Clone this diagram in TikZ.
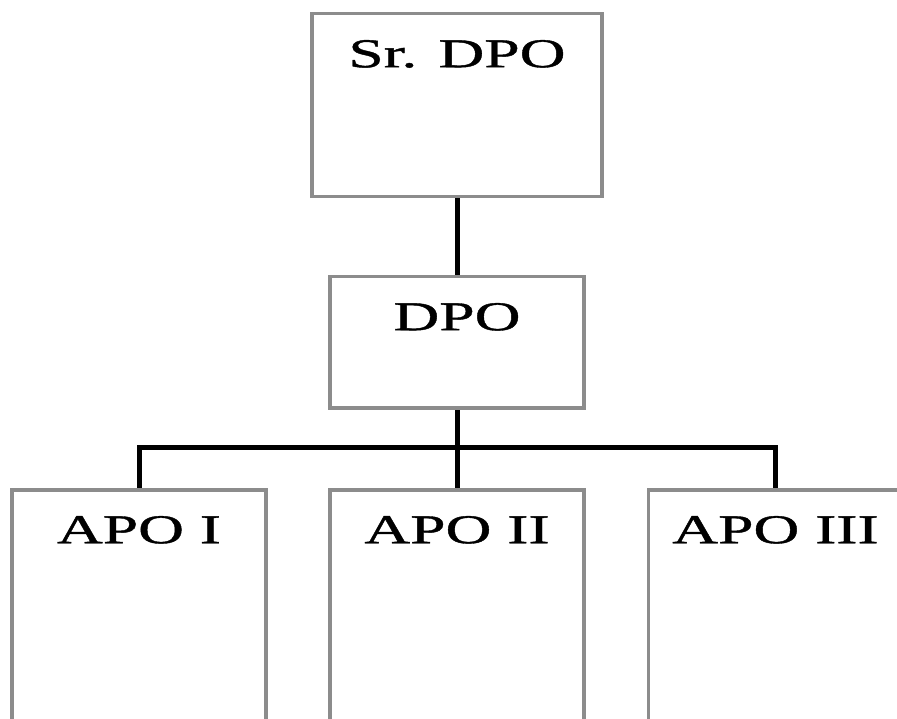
\documentclass[tikz,border=0pt]{standalone}
\usepackage{fontspec}
\setmainfont{Liberation Serif}[FakeStretch=1.55, FakeBold=1]
\usetikzlibrary{backgrounds}
\tikzset{
    post/.style={draw=gray!90, line width=3.5pt, fill=white, inner xsep=0pt, inner ysep=0pt,
        minimum width=254pt, text height=53.5pt, anchor=north,
        font=\fontsize{41}{49}\selectfont},
    link/.style={line width=5pt}
}
\begin{document}
\begin{tikzpicture}[x=1pt, y=-1pt]
            \clip (0,0) rectangle (897,719);
            \useasboundingbox (0,0) rectangle (897,719);

            % Define nodes
            \node[post, minimum width=290pt, text depth=129.5pt] (srdpo) at (457,12) {Sr. DPO};
            \node[post, text depth=77.5pt] (dpo) at (457,275) {DPO};
            \node[post, text depth=250pt] (apoI) at (139,488) {APO I};
            \node[post, text depth=250pt] (apoII) at (457,488) {APO II};
            \node[post, text depth=250pt] (apoIII) at (775.5,488) {APO III};
            \coordinate (bus) at (457,447.5);

            % Draw edges
            \begin{pgfonlayer}{background}
            \draw[link] (srdpo.south) -- (dpo.north);
            \draw[link] (dpo.south) -- (apoII.north);
            \draw[link] (apoI.north) |- (bus) -| (apoIII.north);
            \end{pgfonlayer}
        \end{tikzpicture}
\end{document}
